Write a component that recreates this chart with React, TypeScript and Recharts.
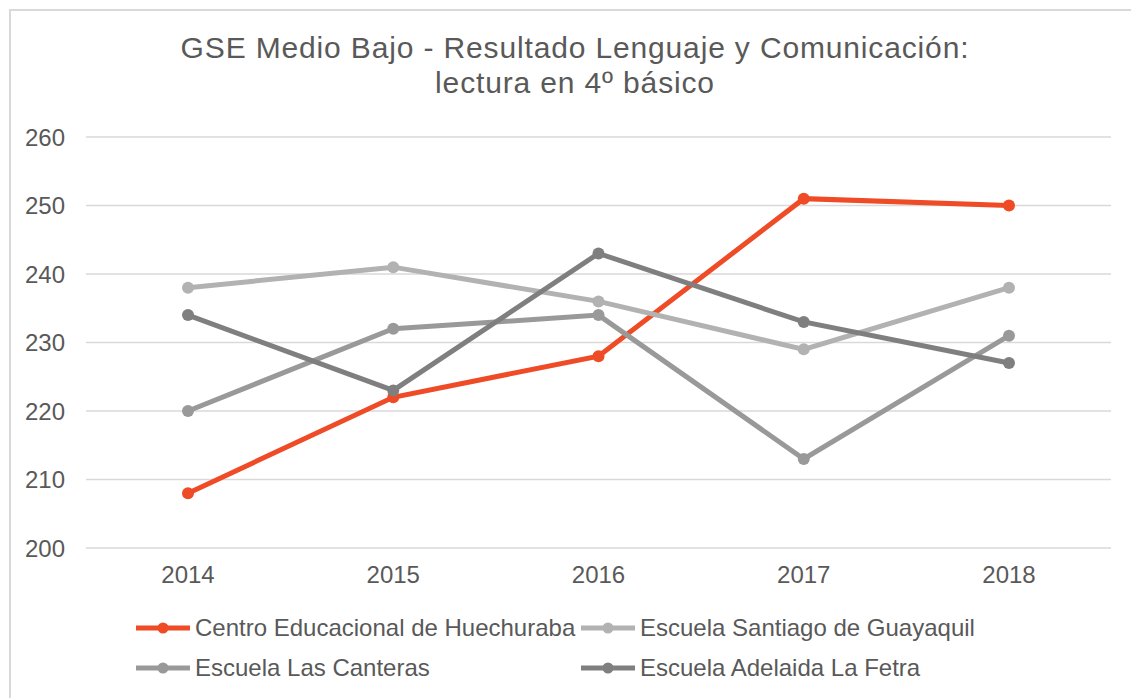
import React from "react";
import { CartesianGrid, Line, LineChart, XAxis, YAxis } from "recharts";

const years = ["2014", "2015", "2016", "2017", "2018"];
const huechuraba = [208, 222, 228, 251, 250];
const guayaquil = [238, 241, 236, 229, 238];
const canteras = [220, 232, 234, 213, 231];
const adelaida = [234, 223, 243, 233, 227];
const yTicks = [200, 210, 220, 230, 240, 250, 260];

const series = [
  { key: "huechuraba", name: "Centro Educacional de Huechuraba", color: "#EE4B26", values: huechuraba },
  { key: "guayaquil", name: "Escuela Santiago de Guayaquil", color: "#B2B2B2", values: guayaquil },
  { key: "canteras", name: "Escuela Las Canteras", color: "#999999", values: canteras },
  { key: "adelaida", name: "Escuela Adelaida La Fetra", color: "#7F7F7F", values: adelaida },
];

const data = years.map((year, i) => {
  const row: Record<string, string | number> = { year };
  series.forEach((s) => {
    row[s.key] = s.values[i];
  });
  return row;
});

const FONT = '"Liberation Sans", Arial, sans-serif';
const TEXT = "#595959";

// legend columns: icon start x per column
const legendCols = [136, 581];

function ChartLegend() {
  return (
    <div style={{ position: "absolute", left: 0, top: 608, width: 1131, height: 80, fontFamily: FONT }}>
      {series.map((s, i) => {
        const col = i % 2;
        const row = Math.floor(i / 2);
        return (
          <div
            key={s.key}
            style={{
              position: "absolute",
              left: legendCols[col],
              top: row * 40,
              height: 40,
              display: "flex",
              alignItems: "center",
              whiteSpace: "nowrap",
            }}
          >
            <svg width={56} height={14} style={{ marginRight: 3 }}>
              <line x1={0} y1={7} x2={54} y2={7} stroke={s.color} strokeWidth={5} />
              <circle cx={27} cy={7} r={5.5} fill={s.color} />
            </svg>
            <span style={{ fontSize: 24, color: TEXT }}>{s.name}</span>
          </div>
        );
      })}
    </div>
  );
}

export default function App() {
  return (
    <div style={{ position: "absolute", left: 0, top: 0, width: 1131, height: 698, background: "#fff", overflow: "hidden" }}>
      <div
        style={{
          position: "absolute",
          left: 9,
          top: 9,
          width: 1200,
          height: 800,
          borderLeft: "2px solid #D9D9D9",
          borderTop: "2px solid #D9D9D9",
        }}
      />
      <div
        style={{
          position: "absolute",
          left: 0,
          top: 30,
          width: 1150,
          textAlign: "center",
          fontFamily: FONT,
          fontSize: 30,
          lineHeight: "35px",
          letterSpacing: 0.85,
          color: TEXT,
        }}
      >
        GSE Medio Bajo - Resultado Lenguaje y Comunicación:
        <br />
        lectura en 4º básico
      </div>
      <div style={{ position: "absolute", left: 0, top: 0 }}>
        <LineChart width={1131} height={698} data={data} margin={{ top: 137, right: 20, bottom: 120, left: 10 }}>
          <CartesianGrid stroke="#D9D9D9" strokeWidth={1.5} vertical={false} />
          <XAxis
            dataKey="year"
            height={30}
            axisLine={false}
            tickLine={false}
            tickSize={0}
            tickMargin={18}
            padding={{ left: 102, right: 102 }}
            tick={{ fill: TEXT, fontSize: 24, fontFamily: FONT }}
          />
          <YAxis
            width={76}
            domain={[200, 260]}
            ticks={yTicks}
            axisLine={false}
            tickLine={false}
            tickSize={0}
            tickMargin={21}
            tick={{ fill: TEXT, fontSize: 24, fontFamily: FONT }}
          />
          {series.map((s) => (
            <Line
              key={s.key}
              dataKey={s.key}
              name={s.name}
              stroke={s.color}
              strokeWidth={5}
              dot={{ r: 6, fill: s.color, stroke: s.color, strokeWidth: 0 }}
              activeDot={false}
              isAnimationActive={false}
            />
          ))}
        </LineChart>
      </div>
      <ChartLegend />
    </div>
  );
}
